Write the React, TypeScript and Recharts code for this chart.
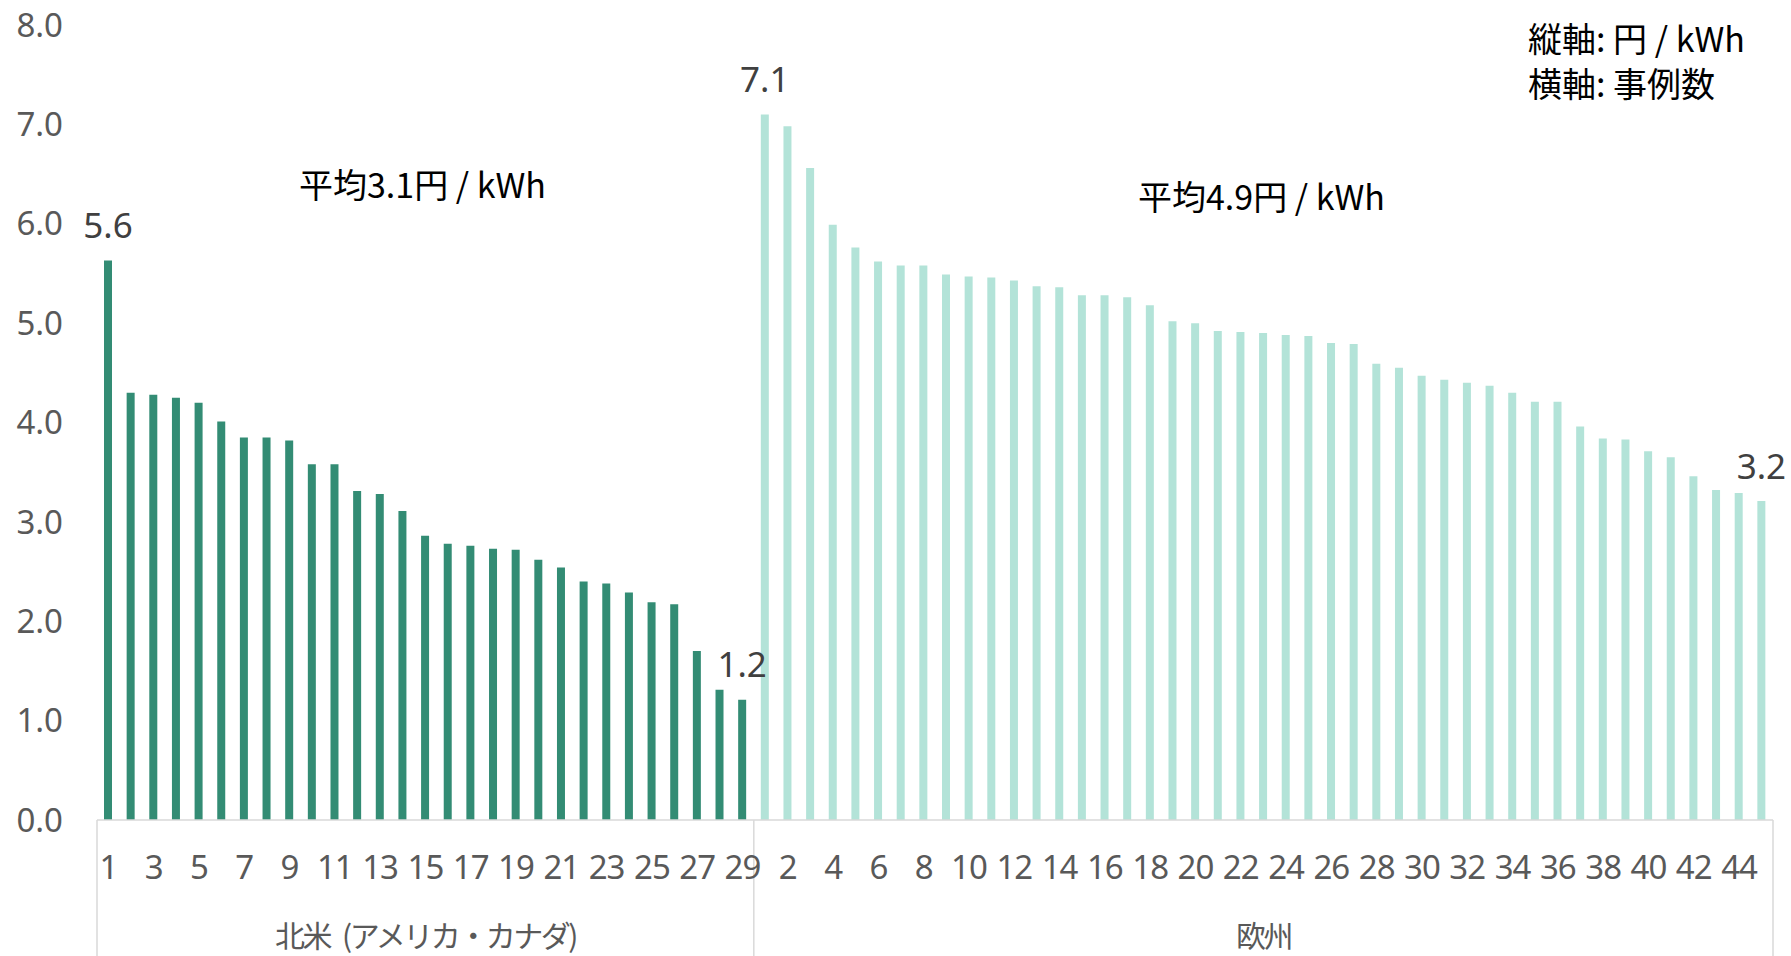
import React from 'react';
import { BarChart, Bar, XAxis, YAxis, Cell, LabelList } from 'recharts';

// 北米 (アメリカ・カナダ) 29件, 欧州 45件 — 円 / kWh
const naValues = [
  5.63, 4.30, 4.28, 4.25, 4.20, 4.01, 3.85, 3.85, 3.82, 3.58,
  3.58, 3.31, 3.28, 3.11, 2.86, 2.78, 2.76, 2.73, 2.72, 2.62,
  2.54, 2.40, 2.38, 2.29, 2.19, 2.17, 1.70, 1.31, 1.21,
];
const euValues = [
  7.10, 6.98, 6.56, 5.99, 5.76, 5.62, 5.58, 5.58, 5.49, 5.47,
  5.46, 5.43, 5.37, 5.36, 5.28, 5.28, 5.26, 5.18, 5.02, 5.00,
  4.92, 4.91, 4.90, 4.88, 4.87, 4.80, 4.79, 4.59, 4.55, 4.47,
  4.43, 4.40, 4.37, 4.30, 4.21, 4.21, 3.96, 3.84, 3.83, 3.71,
  3.65, 3.46, 3.32, 3.29, 3.21,
];
const groups = [
  { id: 'na', name: '北米 (アメリカ・カナダ)', values: naValues, color: '#338C74' },
  { id: 'eu', name: '欧州', values: euValues, color: '#B3E3D8' },
];
const yTicks = [0, 1, 2, 3, 4, 5, 6, 7, 8];

const FONT = '"Noto Sans CJK JP", "Noto Sans", sans-serif';
const NUM_FONT = '"Noto Sans", "Noto Sans CJK JP", sans-serif';

// flat rows for the category axis
const rows = groups.flatMap((g) =>
  g.values.map((v, i) => ({
    key: `${g.id}-${i + 1}`,
    num: i + 1,
    value: v,
    color: g.color,
    group: g.id,
    first: i === 0,
    last: i === g.values.length - 1,
  }))
);

const groupMid = groups.map((g, gi) => {
  const start = groups.slice(0, gi).reduce((s, x) => s + x.values.length, 0);
  return { index: start + Math.floor(g.values.length / 2), name: g.name };
});

const AxisTick = (props: any) => {
  const { x, y, payload, index } = props;
  const half = payload && payload.offset ? payload.offset : 11.3;
  const row = rows[index];
  const mid = groupMid.find((m) => m.index === index);
  const parts = mid ? mid.name.split(' ') : [];
  return (
    <g>
      {row.first && index === 0 && (
        <line x1={x - half} x2={x - half} y1={y} y2={y + 140} stroke="#D9D9D9" strokeWidth={1.5} />
      )}
      {row.last && (
        <line x1={x + half} x2={x + half} y1={y} y2={y + 140} stroke="#D9D9D9" strokeWidth={1.5} />
      )}
      {index % 2 === 0 && (
        <text x={x} y={y + 46} textAnchor="middle" dominantBaseline="central" fill="#595959" fontSize={33} letterSpacing={-1} fontFamily={NUM_FONT}>
          {row.num}
        </text>
      )}
      {mid && (
        <text x={x} y={y + 114} textAnchor="middle" dominantBaseline="central" fill="#595959" fontSize={30} letterSpacing={-2.5} fontFamily={FONT}>
          {parts.map((p, i) => (
            <tspan key={i} dx={i > 0 ? 8 : 0}>
              {i > 0 ? ' ' + p : p}
            </tspan>
          ))}
        </text>
      )}
    </g>
  );
};

const EndLabel = (props: any) => {
  const { x, y, width, value, index } = props;
  const row = rows[index];
  if (!row || !(row.first || row.last)) return null;
  return (
    <text x={x + width / 2} y={y - 36} textAnchor="middle" dominantBaseline="central" fill="#404040" fontSize={35} fontFamily={NUM_FONT}>
      {Number(value).toFixed(1)}
    </text>
  );
};

const note = (left: number, top: number, text: string, size = 34) => (
  <div
    style={{
      position: 'absolute',
      left,
      top,
      transform: 'translateY(-50%)',
      fontFamily: FONT,
      fontSize: size,
      color: '#000',
      whiteSpace: 'nowrap',
      lineHeight: 1,
    }}
  >
    {text}
  </div>
);

export default function App() {
  return (
    <div style={{ position: 'absolute', left: 0, top: 0, width: 1791, height: 956, background: '#fff' }}>
      <BarChart
        width={1791}
        height={956}
        data={rows}
        margin={{ top: 25, right: 18, bottom: 0, left: 0 }}
      >
        <YAxis
          domain={[0, 8]}
          ticks={yTicks}
          interval={0}
          width={97}
          axisLine={false}
          tickLine={false}
          tickSize={6}
          tickMargin={28}
          tickFormatter={(v: number) => v.toFixed(1)}
          tick={{ fill: '#595959', fontSize: 33, fontFamily: NUM_FONT }}
        />
        <XAxis
          dataKey="key"
          interval={0}
          height={136}
          tickLine={false}
          tickSize={0}
          tickMargin={0}
          axisLine={{ stroke: '#D9D9D9', strokeWidth: 1.5 }}
          tick={<AxisTick />}
        />
        <Bar dataKey="value" barSize={8} isAnimationActive={false}>
          {rows.map((r) => (
            <Cell key={r.key} fill={r.color} />
          ))}
          <LabelList dataKey="value" content={<EndLabel />} />
        </Bar>
      </BarChart>
      {note(299, 184, '平均3.1円 / kWh')}
      {note(1138, 196, '平均4.9円 / kWh')}
      {note(1528, 38, '縦軸: 円 / kWh')}
      {note(1528, 83, '横軸: 事例数')}
    </div>
  );
}
